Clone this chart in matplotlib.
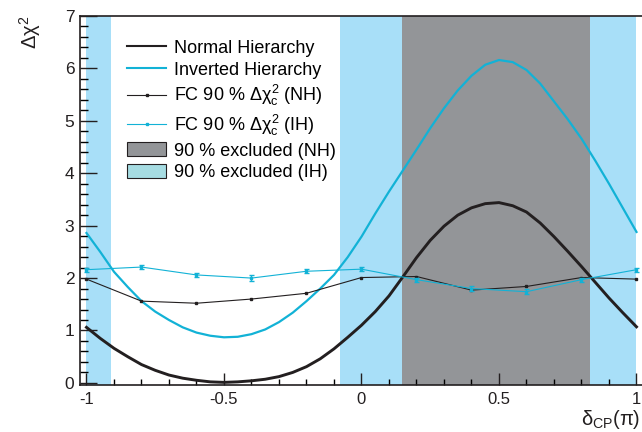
#!/usr/bin/env python3
# -*- coding: utf-8 -*-
import matplotlib
matplotlib.use('Agg')
import matplotlib.pyplot as plt
from matplotlib.lines import Line2D
from matplotlib.patches import Patch
from matplotlib.ticker import MultipleLocator
import numpy as np

# delta_CP (in units of pi) for the smooth curves
delta = [-1.00, -0.95, -0.90, -0.85, -0.80, -0.75, -0.70, -0.65, -0.60, -0.55,
         -0.50, -0.45, -0.40, -0.35, -0.30, -0.25, -0.20, -0.15, -0.10, -0.05,
         0.00, 0.05, 0.10, 0.15, 0.20, 0.25, 0.30, 0.35, 0.40, 0.45,
         0.50, 0.55, 0.60, 0.65, 0.70, 0.75, 0.80, 0.85, 0.90, 0.95, 1.00]

chi2_nh = [1.06, 0.85, 0.66, 0.50, 0.35, 0.24, 0.15, 0.09, 0.05, 0.02,
           0.01, 0.02, 0.04, 0.07, 0.12, 0.20, 0.31, 0.46, 0.65, 0.87,
           1.10, 1.36, 1.66, 2.02, 2.39, 2.72, 2.99, 3.20, 3.34, 3.42,
           3.44, 3.38, 3.26, 3.05, 2.79, 2.51, 2.22, 1.92, 1.62, 1.34, 1.07]

chi2_ih = [2.86, 2.50, 2.12, 1.83, 1.56, 1.36, 1.20, 1.06, 0.96, 0.90,
           0.87, 0.88, 0.93, 1.02, 1.16, 1.34, 1.56, 1.80, 2.06, 2.40,
           2.79, 3.23, 3.65, 4.05, 4.45, 4.86, 5.24, 5.58, 5.86, 6.07,
           6.16, 6.12, 5.97, 5.71, 5.37, 5.03, 4.66, 4.24, 3.80, 3.34, 2.88]

# Feldman-Cousins critical values
fc_delta = [-1.0, -0.8, -0.6, -0.4, -0.2, 0.0, 0.2, 0.4, 0.6, 0.8, 1.0]
fc_nh = [1.98, 1.56, 1.52, 1.60, 1.71, 2.01, 2.03, 1.77, 1.84, 2.01, 1.98]
fc_ih = [2.16, 2.21, 2.06, 2.00, 2.13, 2.17, 1.97, 1.80, 1.74, 1.97, 2.16]
fc_ih_err = [0.04, 0.04, 0.04, 0.05, 0.04, 0.04, 0.04, 0.05, 0.05, 0.04, 0.04]

# 90 % excluded regions
excl_nh = [(0.147, 0.832)]
excl_ih = [(-1.0, -0.911), (-0.078, 1.0)]

BLACK = '#231f20'
CYAN = '#12b2d6'
GREY = '#939598'
LIGHTBLUE = '#a8dff8'
LEGEND_IH = '#a6dce2'


def make_plot():
    plt.rcParams['font.family'] = ['Liberation Sans', 'DejaVu Sans']
    plt.rcParams['axes.unicode_minus'] = False
    # upright greek letters, as in the original figure
    plt.rcParams['mathtext.fontset'] = 'custom'
    plt.rcParams['mathtext.rm'] = 'Liberation Sans'
    plt.rcParams['mathtext.it'] = 'Liberation Sans'
    plt.rcParams['mathtext.bf'] = 'Liberation Sans:bold'

    fig = plt.figure(figsize=(6.42, 4.32), dpi=100)
    ax = fig.add_axes([80 / 642, 47 / 432, 562 / 642, 369 / 432])

    for lo, hi in excl_ih:
        ax.axvspan(lo, hi, color=LIGHTBLUE, lw=0, zorder=0)
    for lo, hi in excl_nh:
        ax.axvspan(lo, hi, color=GREY, lw=0, zorder=1)

    ax.plot(delta, chi2_nh, color=BLACK, lw=2.1, zorder=4, solid_joinstyle='round')
    ax.plot(delta, chi2_ih, color=CYAN, lw=1.6, zorder=4, solid_joinstyle='round')

    ax.plot(fc_delta, fc_nh, color=BLACK, lw=0.8, marker='s', ms=1.6, zorder=5)
    ax.errorbar(fc_delta, fc_ih, yerr=fc_ih_err, color=CYAN, lw=0.8,
                marker='s', ms=1.6, capsize=1.8, elinewidth=1.0, zorder=5)

    ax.set_xlim(-1.0236, 1.02)
    ax.set_ylim(-0.04, 7.0)
    ax.xaxis.set_major_locator(MultipleLocator(0.5))
    ax.xaxis.set_minor_locator(MultipleLocator(0.1))
    ax.yaxis.set_major_locator(MultipleLocator(1))
    ax.yaxis.set_minor_locator(MultipleLocator(0.2))
    ax.xaxis.set_major_formatter(lambda v, p: '%g' % v)

    ax.tick_params(axis='x', which='major', direction='in', length=8.5, width=1.0,
                   labelsize=12, pad=5, top=False, colors=BLACK)
    ax.tick_params(axis='x', which='minor', direction='in', length=4.3, width=1.0, top=False)
    ax.tick_params(axis='y', which='major', direction='in', length=12, width=1.0,
                   labelsize=12.5, pad=4, right=False, colors=BLACK)
    ax.tick_params(axis='y', which='minor', direction='in', length=6, width=1.0, right=False)
    ax.spines['right'].set_visible(False)
    for s in ('left', 'bottom', 'top'):
        ax.spines[s].set_color(BLACK)
        ax.spines[s].set_linewidth(1.2)

    fig.text(30 / 642, 1 - 15 / 432, r'$\Delta\chi^{2}$', rotation=90,
             ha='center', va='top', fontsize=14.5, color=BLACK)
    fig.text(640 / 642, 1 / 432, r'$\delta_{\rm CP}(\pi)$', ha='right', va='bottom',
             fontsize=14.5, color=BLACK)

    handles = [
        Line2D([], [], color=BLACK, lw=1.5),
        Line2D([], [], color=CYAN, lw=1.5),
        Line2D([], [], color=BLACK, lw=0.8, marker='s', ms=1.6),
        Line2D([], [], color=CYAN, lw=0.8, marker='s', ms=1.6),
        Patch(facecolor=GREY, edgecolor=BLACK, lw=0.8),
        Patch(facecolor=LEGEND_IH, edgecolor=BLACK, lw=0.8),
    ]
    labels = ['Normal Hierarchy', 'Inverted Hierarchy',
              r'FC 90 % $\Delta\chi^{2}_{c}$ (NH)', r'FC 90 % $\Delta\chi^{2}_{c}$ (IH)',
              '90 % excluded (NH)', '90 % excluded (IH)']
    ax.legend(handles, labels, loc='upper left', bbox_to_anchor=(114 / 642, 1 - 27 / 432),
              bbox_transform=fig.transFigure, frameon=False, fontsize=13,
              handlelength=2.2, handleheight=0.85, handletextpad=0.45, labelspacing=0.24,
              borderpad=0.2)

    fig.savefig('out.png', dpi=100)


if __name__ == '__main__':
    make_plot()
